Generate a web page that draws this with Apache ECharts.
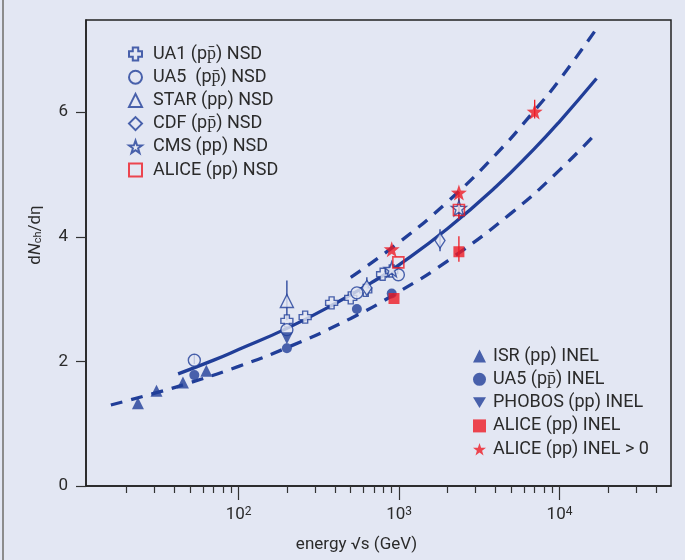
<!DOCTYPE html>
<html>
<head>
<meta charset="utf-8">
<script src="https://cdn.jsdelivr.net/npm/echarts@6/dist/echarts.min.js"></script>
<style>
  html, body { margin: 0; padding: 0; background: #e3e7f3; }
  #chart { width: 685px; height: 560px; }
</style>
</head>
<body>
<div id="chart"></div>
<script>
var blue = '#213e98';
var red = '#ee1c24';
var bg = '#e3e7f3';
var font = 'Roboto';

// data (x = sqrt(s) in GeV, y = dNch/deta)
var isrX = [23.6, 30.8, 45, 63];
var isrY = [1.33, 1.53, 1.66, 1.85];
var ua5InelX = [53, 200, 546, 900];
var ua5InelY = [1.78, 2.21, 2.84, 3.09];
var phobosX = [200];
var phobosY = [2.37];
var aliceInelX = [930, 2360];
var aliceInelY = [3.01, 3.76];
var aliceGtX = [900, 2360, 7000];
var aliceGtY = [3.80, 4.71, 6.01];

var ua1X = [200, 260, 380, 500, 620, 790, 900];
var ua1Y = [2.65, 2.71, 2.94, 3.02, 3.14, 3.40, 3.45];
var ua5NsdX = [53, 200, 546, 990];
var ua5NsdY = [2.02, 2.51, 3.10, 3.39];
var starX = [200];
var starY = [2.97];
var cdfX = [630, 1800];
var cdfY = [3.18, 3.94];
var cmsX = [900, 2360];
var cmsY = [3.48, 4.46];
var aliceNsdX = [990, 2360];
var aliceNsdY = [3.59, 4.43];

// error bars: [x, low, high]
var blueErr = [[53, 1.96, 2.12], [200, 2.66, 3.30], [630, 3.05, 3.35], [1800, 3.77, 4.12], [2360, 4.30, 4.62]];
var redErr = [[2360, 3.60, 4.01], [2360, 4.28, 4.72], [7000, 5.90, 6.20]];

// fit curves
var fitX = [42, 70, 100, 200, 400, 700, 1000, 2000, 4000, 7000, 10000, 17000];
var fitY = [1.80, 2.02, 2.19, 2.53, 2.93, 3.29, 3.55, 4.13, 4.80, 5.42, 5.85, 6.54];
var upX = [500, 1000, 2000, 4000, 7000, 10000, 17000];
var upY = [3.35, 3.91, 4.56, 5.32, 6.03, 6.52, 7.34];
var lowX = [16, 30, 50, 100, 200, 500, 1000, 2000, 5000, 10000, 17000];
var lowY = [1.30, 1.49, 1.66, 1.92, 2.22, 2.69, 3.12, 3.61, 4.38, 5.07, 5.67];

var minorTicks = [20, 30, 40, 50, 60, 70, 80, 90, 200, 300, 400, 500, 600, 700, 800, 900,
  2000, 3000, 4000, 5000, 6000, 7000, 8000, 9000, 20000, 30000, 40000];
var majorTicks = [100, 1000, 10000];
var yTicks = [0, 2, 4, 6];

var plusPath = 'path://M3.5,0H8.5V3.5H12V8.5H8.5V12H3.5V8.5H0V3.5H3.5Z';
var starPath = 'path://M10,0L12.35,6.76L19.51,6.91L13.8,11.24L15.88,18.09L10,14L4.12,18.09L6.2,11.24L0.49,6.91L7.65,6.76Z';

function pairs(xs, ys) {
    return xs.map(function (x, i) { return [x, ys[i]]; });
}

function errSeries(data, color) {
    return {
        type: 'custom',
        data: data,
        encode: { x: 0, y: [1, 2] },
        silent: true,
        z: 3,
        renderItem: function (params, api) {
            var a = api.coord([api.value(0), api.value(1)]);
            var b = api.coord([api.value(0), api.value(2)]);
            return {
                type: 'line',
                shape: { x1: a[0], y1: a[1], x2: b[0], y2: b[1] },
                style: { stroke: color, lineWidth: 1.3 }
            };
        }
    };
}

function fitSeries(xs, ys, dashed) {
    return {
        type: 'line',
        data: pairs(xs, ys),
        smooth: true,
        showSymbol: false,
        silent: true,
        z: 2,
        lineStyle: { color: blue, width: 3.3, type: dashed ? [12, 9] : 'solid' }
    };
}

function markSeries(name, xs, ys, symbol, size, style) {
    return {
        name: name,
        type: 'scatter',
        data: pairs(xs, ys),
        symbol: symbol,
        symbolSize: size,
        z: 4,
        itemStyle: style
    };
}

var openBlue = { color: bg, borderColor: blue, borderWidth: 1.4 };
var fillBlue = { color: blue };
var openRed = { color: 'rgba(0,0,0,0)', borderColor: red, borderWidth: 1.6 };
var fillRed = { color: red };

var nsdNames = ['UA1 (pp\u0304) NSD', 'UA5  (pp\u0304) NSD', 'STAR (pp) NSD', 'CDF (pp\u0304) NSD', 'CMS (pp) NSD', 'ALICE (pp) NSD'];
var inelNames = ['ISR (pp) INEL', 'UA5 (pp\u0304) INEL', 'PHOBOS (pp) INEL', 'ALICE (pp) INEL', 'ALICE (pp) INEL > 0'];

var dom = document.getElementById('chart');
var myChart = echarts.init(dom, null, { renderer: 'canvas' });

myChart.setOption({
    backgroundColor: bg,
    animation: false,
    textStyle: { fontFamily: font },
    graphic: [
        { type: 'rect', shape: { x: 2, y: 0, width: 2, height: 560 }, style: { fill: '#8c8c8c' } }
    ],
    grid: {
        left: 86, right: 14, top: 20, bottom: 74,
        show: true, borderColor: '#222', borderWidth: 1.5
    },
    legend: [
        {
            data: nsdNames,
            orient: 'vertical',
            left: 123, top: 40,
            itemWidth: 13, itemHeight: 13, itemGap: 5.2,
            selectedMode: false,
            textStyle: { fontFamily: font, fontSize: 18, color: '#2b2b2b', lineHeight: 18, padding: [0, 0, 0, 6] }
        },
        {
            data: inelNames,
            orient: 'vertical',
            left: 468, top: 342,
            itemWidth: 13, itemHeight: 13, itemGap: 5.3,
            selectedMode: false,
            textStyle: { fontFamily: font, fontSize: 18, color: '#2b2b2b', lineHeight: 18, padding: [0, 0, 0, 2] }
        }
    ],
    xAxis: [
        {
            type: 'log', logBase: 10, min: 11.2, max: 49500,
            name: 'energy \u221As (GeV)',
            nameLocation: 'middle', nameGap: 50,
            nameTextStyle: { fontSize: 17, color: '#2b2b2b', padding: [0, 44, 0, 0] },
            axisLine: { lineStyle: { color: '#222', width: 1.5 } },
            axisTick: { length: 7, customValues: minorTicks, lineStyle: { color: '#333', width: 1.2 } },
            axisLabel: { show: false },
            splitLine: { show: false }
        },
        {
            type: 'log', logBase: 10, min: 11.2, max: 49500,
            position: 'bottom',
            axisLine: { show: false },
            axisTick: { length: 14, customValues: majorTicks, lineStyle: { color: '#333', width: 1.2 } },
            axisLabel: {
                customValues: majorTicks,
                margin: 20,
                formatter: function (v) {
                    return '{b|10}{s|' + Math.round(Math.log10(v)) + '}';
                },
                rich: {
                    b: { fontSize: 17, color: '#2b2b2b', lineHeight: 17, verticalAlign: 'bottom', padding: [3, 0, 0, 0] },
                    s: { fontSize: 12, color: '#2b2b2b', lineHeight: 12, verticalAlign: 'top' }
                }
            },
            splitLine: { show: false }
        }
    ],
    yAxis: {
        type: 'value', min: 0, max: 7.48,
        name: '{n|d}{i|N}{sub|ch}{n|/d\u03b7}',
        nameLocation: 'middle', nameGap: 42,
        nameTextStyle: {
            padding: [0, 0, 0, 36],
            rich: {
                n: { fontSize: 17, color: '#2b2b2b' },
                i: { fontSize: 17, color: '#2b2b2b', fontStyle: 'italic' },
                sub: { fontSize: 11, color: '#2b2b2b', verticalAlign: 'bottom', padding: [6, 0, 0, 0] }
            }
        },
        axisLine: { show: true, lineStyle: { color: '#222', width: 1.5 } },
        axisTick: { show: true, length: 10, customValues: yTicks, lineStyle: { color: '#333', width: 1.2 } },
        axisLabel: { customValues: yTicks, margin: 18, fontSize: 17, color: '#2b2b2b' },
        splitLine: { show: false }
    },
    series: [
        fitSeries(lowX, lowY, true),
        fitSeries(upX, upY, true),
        fitSeries(fitX, fitY, false),
        errSeries(blueErr, blue),
        errSeries(redErr, red),
        markSeries(nsdNames[0], ua1X, ua1Y, plusPath, 12, openBlue),
        markSeries(nsdNames[1], ua5NsdX, ua5NsdY, 'circle', 12, openBlue),
        markSeries(nsdNames[2], starX, starY, 'triangle', 13, openBlue),
        markSeries(nsdNames[3], cdfX, cdfY, 'diamond', [10, 15], openBlue),
        markSeries(nsdNames[4], cmsX, cmsY, starPath, 15, openBlue),
        markSeries(nsdNames[5], aliceNsdX, aliceNsdY, 'rect', 11, openRed),
        markSeries(inelNames[0], isrX, isrY, 'triangle', 12, fillBlue),
        markSeries(inelNames[1], ua5InelX, ua5InelY, 'circle', 10, fillBlue),
        markSeries(inelNames[2], phobosX, phobosY, 'path://M0,0H12L6,10Z', 12, fillBlue),
        markSeries(inelNames[3], aliceInelX, aliceInelY, 'rect', 11, fillRed),
        markSeries(inelNames[4], aliceGtX, aliceGtY, starPath, 16, fillRed)
    ]
});
</script>
</body>
</html>
